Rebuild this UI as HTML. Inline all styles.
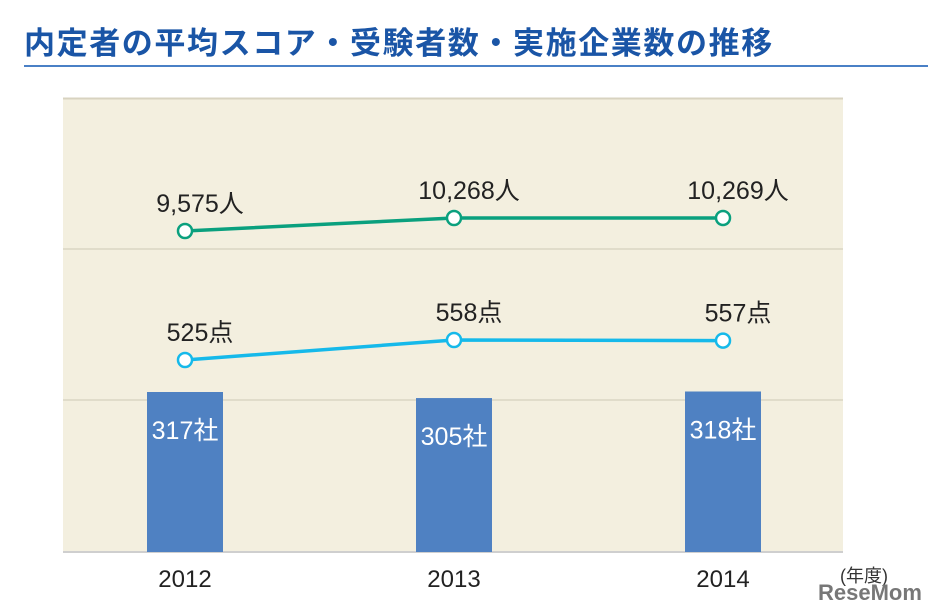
<!DOCTYPE html>
<html><head><meta charset="utf-8"><style>
body{margin:0;width:928px;height:611px;background:#fff;overflow:hidden;font-family:"Liberation Sans","Noto Sans CJK JP",sans-serif}
#title{position:absolute;left:24px;top:18px;font-size:31px;font-weight:bold;color:#1a55a6;letter-spacing:1.6px;white-space:nowrap;font-family:"Noto Sans CJK JP",sans-serif}
#rule{position:absolute;left:24px;top:65px;width:904px;height:2px;background:#4a80c6}
svg{position:absolute;left:0;top:0}
</style></head><body>
<div id="title">内定者の平均スコア・受験者数・実施企業数の推移</div>
<div id="rule"></div>
<svg id="c" width="928" height="611"></svg>
<script>
const years=["2012","2013","2014"];
const companies=[317,305,318];
const scores=[525,558,557];
const examinees=[9575,10268,10269];
const NS="http://www.w3.org/2000/svg";
const svg=document.getElementById('c');
function mk(t,a,p){const e=document.createElementNS(NS,t);for(const k in a)e.setAttribute(k,a[k]);(p||svg).appendChild(e);return e;}
const x=i=>185+i*269;
const yBar=v=>552-v*(160/317);
const yScore=v=>360-(v-525)*(20/33);
const yExam=v=>231-(v-9575)*(13/693);
const bg=mk('rect',{x:63,y:98,width:780,height:454,fill:'#f3efdf'});

mk('line',{x1:63,y1:98.5,x2:843,y2:98.5,stroke:'#d8d3c0','stroke-width':2});
[249,400].forEach(g=>{const l=mk('line',{x1:63,y1:g,x2:843,y2:g,stroke:'#d9d5c4','stroke-width':1.5});});
mk('line',{x1:63,y1:552,x2:843,y2:552,stroke:'#cfcfcf','stroke-width':2});
companies.forEach((v,i)=>{
 const r=mk('rect',{x:x(i)-38,y:yBar(v),width:76,height:552-yBar(v),fill:'#4f81c2'});
 
 const t=mk('text',{x:x(i),y:yBar(v)+47,'text-anchor':'middle','font-size':25,fill:'#fff'});t.textContent=v+'社';
 
 const yl=mk('text',{x:x(i),y:587,'text-anchor':'middle','font-size':24,fill:'#222'});yl.textContent=years[i];
 
});
function series(vals,yf,color,fmt,name){
 const p=mk('polyline',{points:vals.map((v,i)=>x(i)+','+yf(v)).join(' '),fill:'none',stroke:color,'stroke-width':3.5});
 
 vals.forEach((v,i)=>{
  const c=mk('circle',{cx:x(i),cy:yf(v),r:7,fill:'#fff',stroke:color,'stroke-width':2.5});
  
  const t=mk('text',{x:x(i)+15,y:yf(v)-19,'text-anchor':'middle','font-size':25,fill:'#222'});t.textContent=fmt(v);
  
 });
}
series(examinees,yExam,'#0aa07e',v=>v.toLocaleString('en-US')+'人','examinees');
series(scores,yScore,'#15b9ea',v=>v+'点','score');
const u=mk('text',{x:840,y:582,'font-size':18,fill:'#333'});u.textContent='(年度)';

const w=mk('text',{x:818,y:600,'font-size':22,'font-weight':'bold',fill:'#777'});w.textContent='ReseMom';

</script>
</body></html>
